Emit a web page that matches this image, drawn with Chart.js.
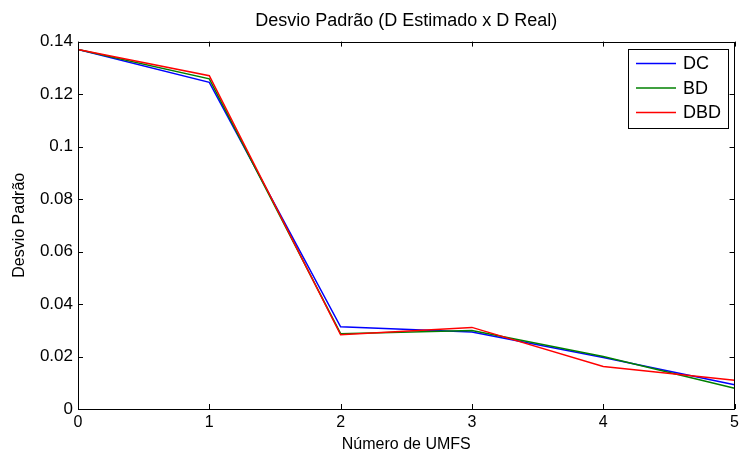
<!DOCTYPE html>
<html>
<head>
<meta charset="utf-8">
<script src="https://cdn.jsdelivr.net/npm/chart.js@4"></script>
<style>
    html, body { margin: 0; padding: 0; background: #fff; }
    #wrap { width: 739px; height: 457px; }
</style>
</head>
<body>
<div id="wrap"><canvas id="myChart"></canvas></div>
<script>
// numero de UMFS
var umfs = [0, 1, 2, 3, 4, 5];
var yTicks = [0, 0.02, 0.04, 0.06, 0.08, 0.1, 0.12, 0.14];

// desvio padrao de cada metodo
var dc  = [0.137, 0.1245, 0.0313, 0.0293, 0.0196, 0.0092];
var bd  = [0.137, 0.1258, 0.0287, 0.0299, 0.0200, 0.0079];
var dbd = [0.137, 0.1270, 0.0283, 0.0311, 0.0162, 0.0110];

function pts(arr) {
    return umfs.map(function(x, i) { return { x: x, y: arr[i] }; });
}

Chart.defaults.font.family = '"Liberation Sans", Arial, sans-serif';
Chart.defaults.color = '#000';

// moldura com marcas para dentro (estilo matlab)
var boxPlugin = {
    id: 'box',
    afterDatasetsDraw: function(chart) {
        var ctx = chart.ctx, a = chart.chartArea;
        var xs = chart.scales.x, ys = chart.scales.y;
        ctx.save();
        ctx.strokeStyle = '#000';
        ctx.lineWidth = 1;
        ctx.beginPath();
        umfs.forEach(function(v) {
            var px = Math.round(xs.getPixelForValue(v)) + 0.5;
            ctx.moveTo(px, a.bottom); ctx.lineTo(px, a.bottom - 5);
            ctx.moveTo(px, a.top); ctx.lineTo(px, a.top + 5);
        });
        yTicks.forEach(function(v) {
            var py = Math.round(ys.getPixelForValue(v)) + 0.5;
            ctx.moveTo(a.left, py); ctx.lineTo(a.left + 5, py);
            ctx.moveTo(a.right, py); ctx.lineTo(a.right - 5, py);
        });
        ctx.stroke();
        ctx.strokeRect(Math.round(a.left) + 0.5, Math.round(a.top) + 0.5,
            Math.round(a.right - a.left) - 1, Math.round(a.bottom - a.top));
        ctx.restore();
    },
    afterDraw: function(chart) {
        // legenda dentro do grafico, canto superior direito
        var ctx = chart.ctx;
        var x0 = 628, y0 = 49, w = 100, h = 79;
        ctx.save();
        ctx.fillStyle = '#fff';
        ctx.fillRect(x0, y0, w, h);
        ctx.strokeStyle = '#000';
        ctx.lineWidth = 1;
        ctx.strokeRect(x0 + 0.5, y0 + 0.5, w, h);
        ctx.font = '18px "Liberation Sans", Arial, sans-serif';
        ctx.textBaseline = 'middle';
        var rows = [63.5, 88, 112.5];
        chart.data.datasets.forEach(function(ds, i) {
            ctx.strokeStyle = ds.borderColor;
            ctx.lineWidth = 1.5;
            ctx.beginPath();
            ctx.moveTo(636, rows[i]);
            ctx.lineTo(676, rows[i]);
            ctx.stroke();
            ctx.fillStyle = '#000';
            ctx.fillText(ds.label, 683, rows[i] + 1);
        });
        ctx.restore();
    }
};

var ctx = document.getElementById('myChart').getContext('2d');

var chart = new Chart(ctx, {
    type: 'line',
    data: {
        datasets: [{
            label: 'DC',
            borderColor: '#0000ff',
            data: pts(dc),
            order: 3
        },
        {
            label: 'BD',
            borderColor: '#008000',
            data: pts(bd),
            order: 2
        },
        {
            label: 'DBD',
            borderColor: '#ff0000',
            data: pts(dbd),
            order: 1
        }]
    },
    options: {
        responsive: true,
        maintainAspectRatio: false,
        animation: false,
        layout: { padding: { left: 0, right: 4, top: 0, bottom: 0 } },
        elements: {
            line: { borderWidth: 1.5, tension: 0, fill: false },
            point: { radius: 0, hoverRadius: 0 }
        },
        plugins: {
            legend: { display: false },
            tooltip: { enabled: false },
            title: {
                display: true,
                text: 'Desvio Padrão (D Estimado x D Real)',
                fullSize: false,
                font: { size: 18, weight: 'normal' },
                padding: { top: 10, bottom: 10 }
            }
        },
        scales: {
            x: {
                type: 'linear',
                min: 0,
                max: 5,
                grid: { display: false, drawTicks: true, tickLength: 4 },
                border: { display: false },
                ticks: { stepSize: 1, padding: 0, font: { size: 16 } },
                title: {
                    display: true,
                    text: 'Número de UMFS',
                    font: { size: 16 },
                    padding: { top: 0, bottom: 3 }
                },
                afterFit: function(s) { s.height = 48; }
            },
            y: {
                min: 0,
                max: 0.14,
                grid: { display: false, drawTicks: false },
                border: { display: false },
                ticks: {
                    stepSize: 0.02,
                    padding: 5,
                    font: { size: 17 },
                    callback: function(v) { return +v.toFixed(2) + ''; }
                },
                title: {
                    display: true,
                    text: 'Desvio Padrão',
                    font: { size: 16 },
                    padding: { top: 10, bottom: 0 }
                },
                afterFit: function(s) { s.width = 78; }
            }
        }
    },
    plugins: [boxPlugin]
});
</script>
</body>
</html>
